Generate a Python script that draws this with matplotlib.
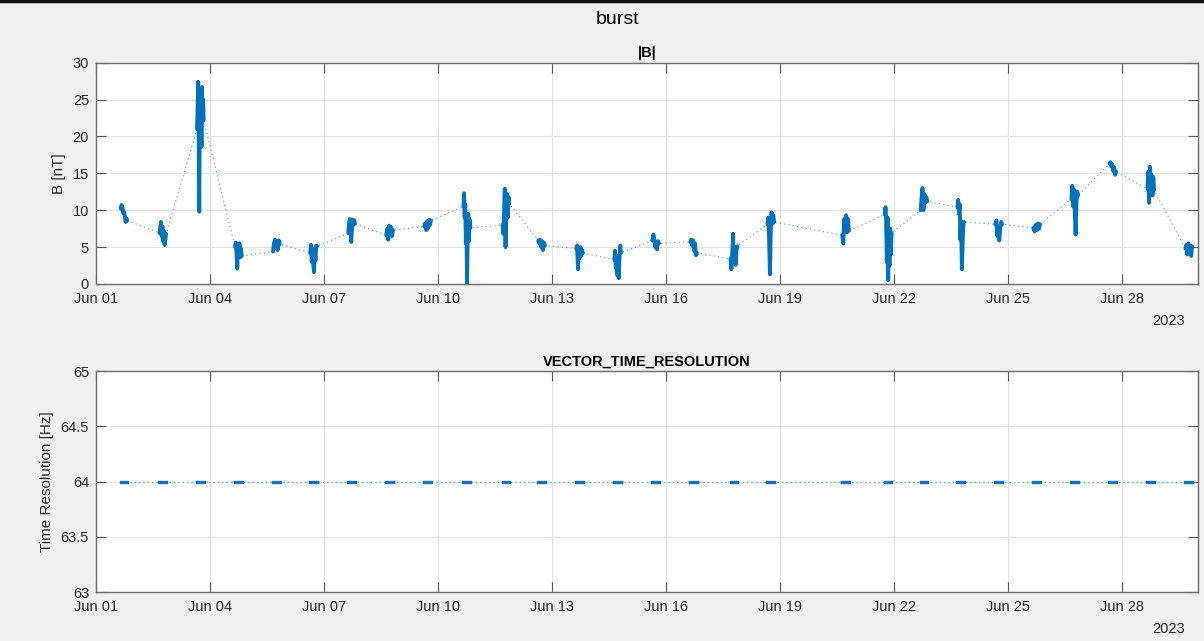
import numpy as np
import matplotlib
matplotlib.use("Agg")
import matplotlib.pyplot as plt
import matplotlib.dates as mdates
from datetime import datetime, timedelta

plt.rcParams['font.family'] = ['Liberation Sans', 'DejaVu Sans']

# Burst start times and the |B| samples recorded in each burst
burst_starts = [
    "2023-06-01 15:36", "2023-06-02 16:05", "2023-06-03 15:50", "2023-06-04 15:50",
    "2023-06-05 15:50", "2023-06-06 15:22", "2023-06-07 15:22", "2023-06-08 15:22",
    "2023-06-09 15:22", "2023-06-10 16:05", "2023-06-11 16:48", "2023-06-12 15:22",
    "2023-06-13 15:22", "2023-06-14 15:22", "2023-06-15 15:22", "2023-06-16 15:22",
    "2023-06-17 16:48", "2023-06-18 16:05", "2023-06-20 15:22", "2023-06-21 18:14",
    "2023-06-22 16:48", "2023-06-23 16:05", "2023-06-24 16:05", "2023-06-25 16:05",
    "2023-06-26 16:05", "2023-06-27 16:05", "2023-06-28 16:05", "2023-06-29 16:05",
]
burst_hours = 4.2

b_mag = [
    [10.2, 10.7, 10.5, 9.6, 9.8, 9.2, 8.4, 8.9, 8.6],
    [6.9, 7.6, 8.4, 6.5, 7.8, 5.8, 7.2, 5.3, 6.0, 6.8],
    [21.0, 23.5, 27.4, 20.5, 9.8, 24.0, 19.5, 25.5, 18.6, 26.7, 23.0, 25.0, 22.2],
    [5.0, 5.6, 4.2, 2.1, 5.2, 4.5, 5.5, 3.6, 4.8, 3.8],
    [4.4, 5.5, 6.0, 4.9, 5.8, 4.6, 5.9, 5.4],
    [4.2, 5.3, 3.0, 4.8, 2.6, 1.6, 4.5, 3.2, 5.2, 5.1],
    [6.9, 8.2, 8.8, 7.2, 5.7, 7.6, 8.7, 8.0, 8.6, 8.2],
    [6.6, 7.5, 6.0, 7.9, 6.8, 7.7, 6.5, 7.3],
    [7.8, 8.2, 7.3, 8.5, 7.6, 8.7, 8.0, 8.6],
    [10.5, 12.3, 9.0, 10.8, 5.5, 8.0, 0.0, 6.5, 9.5, 5.8, 8.8, 7.6],
    [8.0, 6.8, 9.5, 12.9, 5.0, 11.0, 12.2, 9.0, 11.8, 10.9],
    [5.9, 5.5, 6.0, 5.0, 5.8, 4.6, 5.6, 5.2],
    [4.8, 5.2, 2.0, 4.5, 3.5, 5.0, 3.8, 4.6, 4.2],
    [3.3, 4.5, 2.2, 3.8, 1.2, 2.8, 0.8, 3.5, 5.2, 4.2],
    [5.9, 6.7, 6.2, 5.0, 5.6, 4.7, 5.8, 5.5],
    [5.7, 6.0, 5.2, 5.9, 4.5, 5.5, 3.9, 4.2],
    [3.4, 2.0, 4.0, 6.8, 3.0, 5.0, 2.6, 4.5, 5.1],
    [8.1, 9.0, 6.0, 1.3, 7.5, 9.7, 8.2, 9.3, 8.4],
    [6.6, 5.5, 8.8, 7.5, 9.3, 7.0, 8.8, 7.2],
    [9.4, 10.4, 8.5, 3.0, 9.0, 0.5, 5.0, 2.5, 7.5, 4.0, 6.9],
    [10.0, 11.5, 13.0, 10.0, 12.2, 11.0, 11.8, 11.2],
    [10.4, 11.4, 9.5, 10.8, 6.0, 8.5, 2.0, 5.5, 8.0, 8.4],
    [8.1, 8.6, 6.5, 7.8, 5.9, 7.5, 8.4, 8.1],
    [7.6, 7.1, 8.0, 7.3, 8.2, 7.5, 8.1],
    [11.5, 13.3, 10.5, 12.8, 9.8, 6.7, 11.0, 12.5, 12.0],
    [16.3, 16.5, 15.9, 16.2, 15.3, 15.8, 14.8, 15.2],
    [12.9, 15.2, 11.0, 15.9, 13.5, 14.8, 12.0, 14.5, 12.7],
    [4.8, 5.3, 4.0, 5.5, 4.5, 5.2, 3.8, 5.1],
]

# Vector time resolution for each burst
time_resolution_hz = [64] * len(burst_starts)

x_ticks = [f"2023-06-{d:02d}" for d in range(1, 29, 3)]
x_limits = ("2023-06-01", "2023-06-30")
b_ticks = [0, 5, 10, 15, 20, 25, 30]
res_ticks = [63, 63.5, 64, 64.5, 65]

BLUE = "#0072BD"
FIG_BG = "#F0F0F0"


def burst_times(start, n):
    t0 = datetime.strptime(start, "%Y-%m-%d %H:%M")
    return [t0 + timedelta(hours=burst_hours * i / (n - 1)) for i in range(n)]


def style_axes(ax, yticks, ylim, ylabel, title):
    ax.set_facecolor("white")
    ax.set_xlim(datetime.strptime(x_limits[0], "%Y-%m-%d"),
                datetime.strptime(x_limits[1], "%Y-%m-%d"))
    ax.set_xticks([datetime.strptime(s, "%Y-%m-%d") for s in x_ticks])
    ax.xaxis.set_major_formatter(mdates.DateFormatter("%b %d"))
    ax.set_ylim(*ylim)
    ax.set_yticks(yticks)
    ax.set_yticklabels([f"{v:g}" for v in yticks])
    ax.grid(True, color="#E3E3E3", linewidth=0.8)
    ax.set_axisbelow(True)
    for sp in ax.spines.values():
        sp.set_color("#6A6A6A")
        sp.set_linewidth(1.0)
    ax.tick_params(direction="in", length=7.5, width=0.8, color="#555555",
                   top=True, right=True, labelsize=10.5, labelcolor="#262626")
    ax.tick_params(axis="x", pad=6)
    ax.tick_params(axis="y", pad=5)
    ax.set_ylabel(ylabel, fontsize=11, color="#262626", labelpad=5)
    ax.set_title(title, fontsize=10.5, fontweight="bold", color="black", pad=4)


fig = plt.figure(figsize=(12.04, 6.41), dpi=100, facecolor=FIG_BG)
ax1 = fig.add_axes([0.0797, 0.557, 0.9153, 0.3453])
ax2 = fig.add_axes([0.0797, 0.0764, 0.9153, 0.3448])

all_t, all_b, all_r = [], [], []
for start, vals, res in zip(burst_starts, b_mag, time_resolution_hz):
    t = burst_times(start, len(vals))
    all_t += t
    all_b += vals
    all_r += [res] * len(vals)

# Dotted trace joining consecutive bursts
ax1.plot(all_t, all_b, color=BLUE, linewidth=0.9, alpha=0.6,
         linestyle=(0, (1, 2.5)), zorder=2)
ax2.plot(all_t, all_r, color=BLUE, linewidth=0.9, alpha=0.6,
         linestyle=(0, (1, 2.5)), zorder=2)

# Thick burst segments
for start, vals, res in zip(burst_starts, b_mag, time_resolution_hz):
    t = burst_times(start, len(vals))
    ax1.plot(t, vals, color=BLUE, linewidth=2.8, solid_joinstyle="round",
             solid_capstyle="round", zorder=3)
    ax2.plot([t[0], t[-1]], [res, res], color=BLUE, linewidth=2.4,
             solid_capstyle="projecting", zorder=3)

style_axes(ax1, b_ticks, (0, 30), "B [nT]", "|B|")
style_axes(ax2, res_ticks, (63, 65), "Time Resolution [Hz]", "VECTOR_TIME_RESOLUTION")

fig.text(0.984, 1 - 321 / 641, "2023", ha="right", va="center", fontsize=10.5, color="#262626")
fig.text(0.984, 1 - 629 / 641, "2023", ha="right", va="center", fontsize=10.5, color="#262626")
fig.text(0.5125, 1 - 19 / 641, "burst", ha="center", va="center", fontsize=14, color="black")

# Window frame line along the top edge
fig.add_artist(plt.Line2D([0, 1], [0.998, 0.998], transform=fig.transFigure,
                          color="#111111", linewidth=2.5))

fig.savefig("out.png", dpi=100, facecolor=FIG_BG)
